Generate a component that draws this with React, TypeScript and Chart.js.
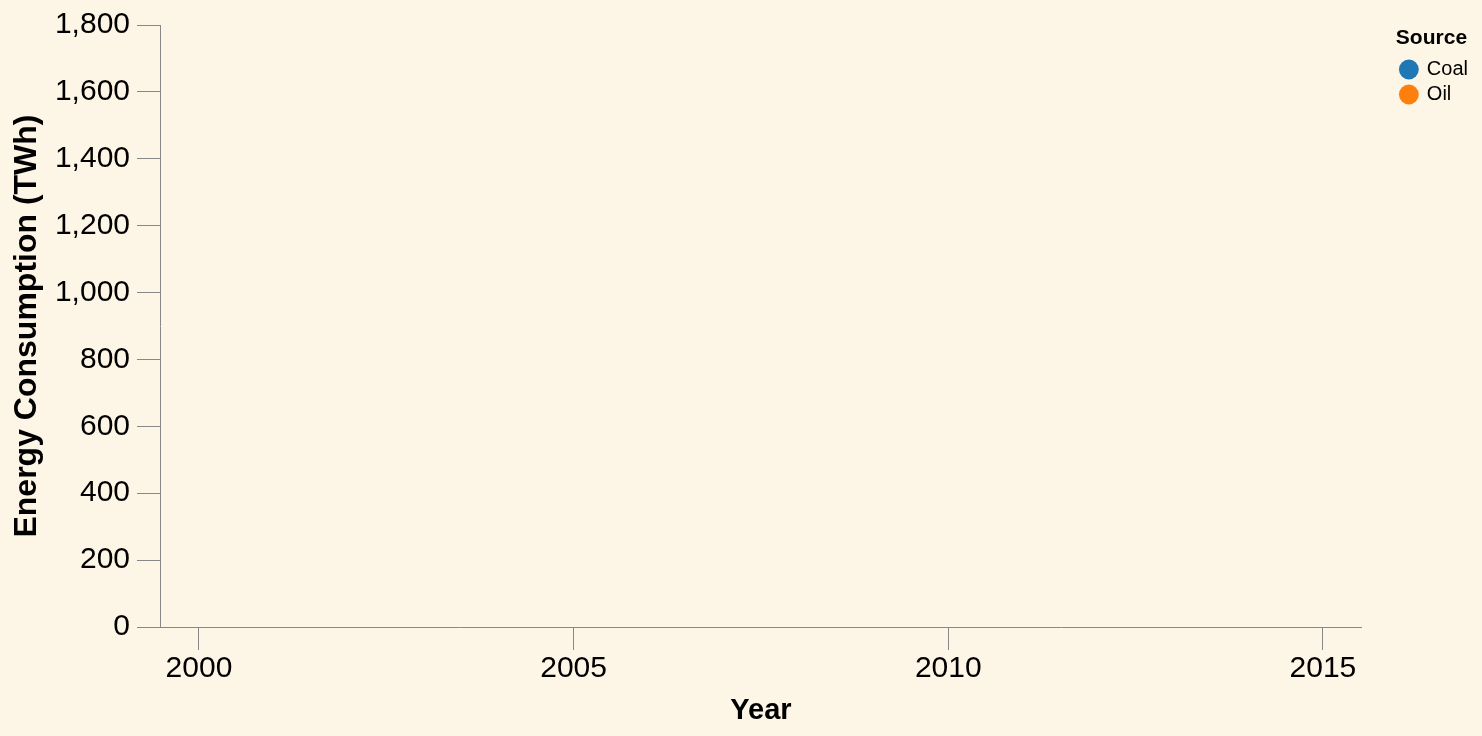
import React, { useEffect, useRef } from 'react';
import { Chart, registerables } from 'chart.js';

Chart.register(...registerables);

// Data (the reference shows empty axes: no points are plotted)
const years: number[] = [];
const coal: number[] = [];
const oil: number[] = [];

const seriesNames = ['Coal', 'Oil'];
const seriesColors = ['#1f77b4', '#ff7f0e'];

const xTicks = [2000, 2005, 2010, 2015];
const xMin = 1999.48;
const xMax = 2015.52;
const yMin = 0;
const yMax = 1800;
const yStep = 200;

const FONT = "'Liberation Sans', Arial, Helvetica, sans-serif";

export default function App() {
  const ref = useRef<HTMLCanvasElement>(null);

  useEffect(() => {
    const canvas = ref.current;
    if (!canvas) return;
    const toPoints = (vals: number[]) => years.map((x, i) => ({ x, y: vals[i] }));
    const seriesValues = [coal, oil];

    const chart = new Chart(canvas, {
      type: 'line',
      data: {
        datasets: seriesNames.map((name, i) => ({
          label: name,
          data: toPoints(seriesValues[i]),
          borderColor: seriesColors[i],
          backgroundColor: seriesColors[i],
          pointBackgroundColor: seriesColors[i],
          pointBorderWidth: 0,
          pointStyle: 'circle',
          borderWidth: 2,
        })),
      },
      options: {
        animation: false,
        responsive: false,
        devicePixelRatio: 1,
        layout: { padding: { top: 25, left: 0, right: 38, bottom: 0 } },
        plugins: {
          tooltip: { enabled: false },
          legend: {
            position: 'right',
            align: 'start',
            title: {
              display: true,
              text: 'Source',
              position: 'start',
              color: '#000',
              font: { family: FONT, size: 21, weight: 'bold' },
              padding: { top: 3, bottom: 1.3 },
            },
            labels: {
              usePointStyle: true,
              pointStyle: 'circle',
              boxWidth: 16,
              boxHeight: 14,
              padding: 5,
              color: '#000',
              font: { family: FONT, size: 20 },
            },
          },
        },
        scales: {
          x: {
            type: 'linear',
            min: xMin,
            max: xMax,
            afterBuildTicks: (s: any) => {
              s.ticks = xTicks.map((v) => ({ value: v }));
            },
            afterFit: (s: any) => {
              s.height = 109;
            },
            ticks: {
              autoSkip: false,
              maxRotation: 0,
              padding: 1,
              color: '#000',
              font: { family: FONT, size: 30 },
              callback: (v: any) => String(v),
            },
            grid: {
              drawOnChartArea: false,
              drawTicks: true,
              tickLength: 23,
              color: '#888',
              lineWidth: 1,
            },
            border: { display: true, color: '#888', width: 1 },
            title: {
              display: true,
              text: 'Year',
              color: '#000',
              font: { family: FONT, size: 29, weight: 'bold' },
              padding: { top: 0, bottom: 8 },
            },
          },
          y: {
            type: 'linear',
            min: yMin,
            max: yMax,
            afterFit: (s: any) => {
              s.width = 160;
            },
            ticks: {
              stepSize: yStep,
              padding: 7,
              color: '#000',
              font: { family: FONT, size: 30 },
              callback: (v: any) => Number(v).toLocaleString('en-US'),
            },
            grid: {
              drawOnChartArea: false,
              drawTicks: true,
              tickLength: 23,
              color: '#888',
              lineWidth: 1,
            },
            border: { display: true, color: '#888', width: 1 },
            title: {
              display: true,
              text: 'Energy Consumption (TWh)',
              color: '#000',
              font: { family: FONT, size: 32, weight: 'bold' },
              padding: { top: 8.2, bottom: 0 },
            },
          },
        },
      },
      plugins: [
        {
          id: 'legendOffset',
          afterLayout(c: any) {
            const l = c.legend;
            if (l) {
              l.left += 34;
              l.right += 34;
            }
          },
        },
      ],
    } as any);

    return () => chart.destroy();
  }, []);

  return (
    <div
      style={{
        position: 'fixed',
        left: 0,
        top: 0,
        width: 1482,
        height: 736,
        background: '#FDF5E6',
      }}
    >
      <canvas ref={ref} width={1482} height={736} style={{ display: 'block' }} />
    </div>
  );
}
